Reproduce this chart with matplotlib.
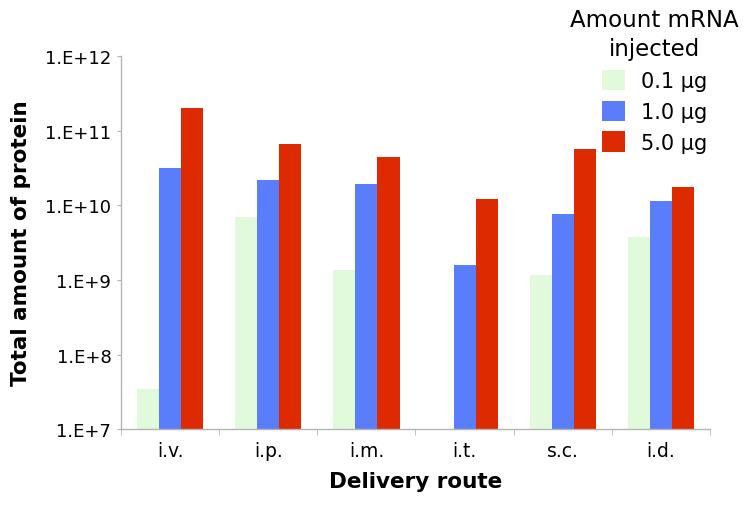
import numpy as np
import matplotlib
matplotlib.use('Agg')
import matplotlib.pyplot as plt
from matplotlib.patches import Patch
from matplotlib.ticker import FixedLocator, NullFormatter

# delivery routes and protein totals per dose
routes = ['i.v.', 'i.p.', 'i.m.', 'i.t.', 's.c.', 'i.d.']
dose_labels = ['0.1 \u00b5g', '1.0 \u00b5g', '5.0 \u00b5g']
dose_01 = [3.5e7, 6.9e9, 1.35e9, np.nan, 1.15e9, 3.8e9]
dose_10 = [3.2e10, 2.2e10, 1.95e10, 1.6e9, 7.6e9, 1.15e10]
dose_50 = [2.0e11, 6.6e10, 4.5e10, 1.23e10, 5.7e10, 1.78e10]
y_ticks = [1e7, 1e8, 1e9, 1e10, 1e11, 1e12]
y_tick_labels = ['1.E+7', '1.E+8', '1.E+9', '1.E+10', '1.E+11', '1.E+12']

colors = ['#e0fadb', '#5a7dfb', '#dd2a00']
axis_grey = '#b4b4b4'

fig = plt.figure(figsize=(7.45, 5.06), dpi=100)
ax = fig.add_axes([0.1624, 0.150, 0.7906, 0.737])

x = np.arange(len(routes))
width = 0.225
for i, (vals, col) in enumerate(zip([dose_01, dose_10, dose_50], colors)):
    ax.bar(x + (i - 1) * width, vals, width, color=col, edgecolor='none')

ax.set_yscale('log')
ax.set_ylim(1e7, 1e12)
ax.set_xlim(-0.5, len(routes) - 0.5)

ax.yaxis.set_major_locator(FixedLocator(y_ticks))
ax.set_yticklabels(y_tick_labels)
ax.yaxis.set_minor_formatter(NullFormatter())
ax.tick_params(axis='y', which='minor', length=0)
ax.tick_params(axis='y', which='major', length=3, color=axis_grey, labelsize=13, pad=4)

ax.set_xticks(x)
ax.set_xticklabels(routes)
ax.set_xticks(np.arange(len(routes) + 1) - 0.5, minor=True)
ax.tick_params(axis='x', which='major', length=0, labelsize=13.5, pad=8.5)
ax.tick_params(axis='x', which='minor', length=4, color=axis_grey)

for s in ['top', 'right']:
    ax.spines[s].set_visible(False)
for s in ['left', 'bottom']:
    ax.spines[s].set_color(axis_grey)
    ax.spines[s].set_linewidth(1.0)

ax.set_ylabel('Total amount of protein', fontsize=15.5, fontweight='bold', labelpad=10)
ax.set_xlabel('Delivery route', fontsize=15.5, fontweight='bold', labelpad=8)

handles = [Patch(facecolor=c, edgecolor='none', label=l) for c, l in zip(colors, dose_labels)]
leg = fig.legend(handles=handles, title='Amount mRNA\ninjected', loc='upper right',
                 bbox_to_anchor=(0.992, 0.982), frameon=False, fontsize=15,
                 title_fontsize=16.5, handlelength=1.1, handleheight=1.15,
                 handletextpad=0.8, labelspacing=0.45, borderpad=0, borderaxespad=0)
leg.get_title().set_multialignment('center')
leg.get_title().set_linespacing(1.35)

fig.savefig('out.png', dpi=100)
